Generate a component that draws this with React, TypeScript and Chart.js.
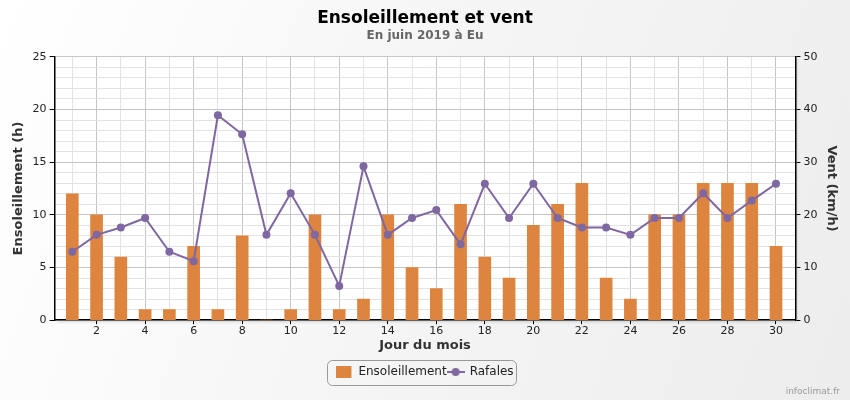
import React, { useEffect, useRef } from 'react';
import { Chart, registerables } from 'chart.js';

Chart.register(...registerables);

const TITLE = 'Ensoleillement et vent';
const SUBTITLE = 'En juin 2019 à Eu';
const X_TITLE = 'Jour du mois';
const Y_TITLE = 'Ensoleillement (h)';
const Y1_TITLE = 'Vent (km/h)';
const SERIES_BAR = 'Ensoleillement';
const SERIES_LINE = 'Rafales';
const CREDIT = 'infoclimat.fr';

const days = [1, 2, 3, 4, 5, 6, 7, 8, 9, 10, 11, 12, 13, 14, 15, 16, 17, 18, 19, 20, 21, 22, 23, 24, 25, 26, 27, 28, 29, 30];
const sunshine = [12, 10, 6, 1, 1, 7, 1, 8, 0, 1, 10, 1, 2, 10, 5, 3, 11, 6, 4, 9, 11, 13, 4, 2, 10, 10, 13, 13, 13, 7];
const gusts = [13.0, 16.2, 17.6, 19.4, 13.0, 11.2, 38.9, 35.3, 16.2, 24.1, 16.2, 6.5, 29.2, 16.2, 19.4, 20.9, 14.4, 25.9, 19.4, 25.9, 19.4, 17.6, 17.6, 16.2, 19.4, 19.4, 24.1, 19.4, 22.7, 25.9];
const xLabelDays = [2, 4, 6, 8, 10, 12, 14, 16, 18, 20, 22, 24, 26, 28, 30];
const yLeftLabels = [0, 5, 10, 15, 20, 25];
const yRightLabels = [0, 10, 20, 30, 40, 50];

const BAR_COLOR = '#dd843e';
const LINE_COLOR = '#7f67a1';
const FONT = "'DejaVu Sans', Verdana, sans-serif";

function makeBarSymbol(): HTMLCanvasElement {
  const c = document.createElement('canvas');
  c.width = 16;
  c.height = 12;
  const g = c.getContext('2d')!;
  g.fillStyle = BAR_COLOR;
  g.fillRect(0, 0, 15, 12);
  return c;
}

function makeLineSymbol(): HTMLCanvasElement {
  const c = document.createElement('canvas');
  c.width = 18;
  c.height = 10;
  const g = c.getContext('2d')!;
  g.strokeStyle = LINE_COLOR;
  g.lineWidth = 2;
  g.beginPath();
  g.moveTo(0, 5);
  g.lineTo(18, 5);
  g.stroke();
  g.fillStyle = LINE_COLOR;
  g.beginPath();
  g.arc(9, 5, 4, 0, Math.PI * 2);
  g.fill();
  return c;
}

const plotBgPlugin = {
  id: 'plotBg',
  beforeDraw(chart: any) {
    const { ctx, chartArea } = chart;
    if (!chartArea) return;
    ctx.save();
    ctx.shadowColor = 'rgba(0,0,0,0.22)';
    ctx.shadowBlur = 3;
    ctx.shadowOffsetX = 2;
    ctx.shadowOffsetY = 2;
    ctx.fillStyle = '#ffffff';
    ctx.fillRect(chartArea.left, chartArea.top, chartArea.right - chartArea.left, chartArea.bottom - chartArea.top);
    ctx.restore();
  },
};

const extrasPlugin = {
  id: 'extras',
  afterDraw(chart: any) {
    const { ctx } = chart;
    const lg = chart.legend;
    if (lg && lg.legendHitBoxes && lg.legendHitBoxes.length) {
      const boxes = lg.legendHitBoxes;
      let l = Infinity, r = -Infinity, t = Infinity, b = -Infinity;
      boxes.forEach((h: any) => {
        l = Math.min(l, h.left);
        r = Math.max(r, h.left + h.width);
        t = Math.min(t, h.top);
        b = Math.max(b, h.top + h.height);
      });
      const x0 = Math.round(l - 9) + 0.5;
      const y0 = Math.round(t - 6) + 0.5;
      const w = Math.round(r + 3 - (l - 9));
      const hgt = Math.round(b + 7 - (t - 6));
      ctx.save();
      ctx.strokeStyle = '#999999';
      ctx.lineWidth = 1;
      ctx.beginPath();
      (ctx as any).roundRect(x0, y0, w, hgt, 5);
      ctx.stroke();
      ctx.restore();
    }
    ctx.save();
    ctx.font = `9px ${FONT}`;
    ctx.fillStyle = '#999999';
    ctx.textAlign = 'right';
    ctx.textBaseline = 'middle';
    ctx.fillText(CREDIT, 840, 392);
    ctx.restore();
  },
};

export default function App() {
  const canvasRef = useRef<HTMLCanvasElement | null>(null);

  useEffect(() => {
    document.body.style.margin = '0';
    const canvas = canvasRef.current;
    if (!canvas) return;
    Chart.defaults.font.family = FONT;
    const barSymbol = makeBarSymbol();
    const lineSymbol = makeLineSymbol();

    const chart = new Chart(canvas, {
      type: 'bar',
      data: {
        datasets: [
          {
            type: 'bar',
            label: SERIES_BAR,
            data: days.map((d, i) => ({ x: d, y: sunshine[i] })),
            backgroundColor: BAR_COLOR,
            borderWidth: 0,
            barThickness: 12,
            yAxisID: 'y',
            order: 2,
          } as any,
          {
            type: 'line',
            label: SERIES_LINE,
            data: days.map((d, i) => ({ x: d, y: gusts[i] })),
            borderColor: LINE_COLOR,
            backgroundColor: LINE_COLOR,
            borderWidth: 2,
            pointRadius: 4,
            pointBorderWidth: 0,
            pointBackgroundColor: LINE_COLOR,
            tension: 0,
            yAxisID: 'y1',
            order: 1,
          } as any,
        ],
      },
      options: {
        responsive: false,
        animation: false,
        devicePixelRatio: 1,
        layout: { padding: { left: 8, right: 8, top: 0, bottom: 12 } },
        scales: {
          x: {
            type: 'linear',
            min: 0.27,
            max: 30.8,
            offset: false,
            afterBuildTicks: (s: any) => {
              s.ticks = days.map((d) => ({ value: d }));
            },
            grid: {
              offset: false,
              color: (c: any) => (c.tick && xLabelDays.includes(c.tick.value) ? '#c6c6c6' : '#e3e3e3'),
              tickColor: (c: any) => (c.tick && xLabelDays.includes(c.tick.value) ? '#000000' : 'rgba(0,0,0,0)'),
              tickLength: 4,
              lineWidth: 1,
            },
            border: { color: '#000000', width: 1.5 },
            ticks: {
              autoSkip: false,
              maxRotation: 0,
              padding: 0,
              color: '#222222',
              font: { size: 11 },
              callback: (v: any) => (xLabelDays.includes(v) ? String(v) : ''),
            },
            title: {
              display: true,
              text: X_TITLE,
              color: '#333333',
              font: { size: 13, weight: 'bold' },
              padding: { top: 0, bottom: 12 },
            },
          } as any,
          y: {
            type: 'linear',
            position: 'left',
            min: 0,
            max: 25,
            afterBuildTicks: (s: any) => {
              const t: any[] = [];
              for (let v = 0; v <= 25; v++) t.push({ value: v });
              s.ticks = t;
            },
            grid: {
              color: (c: any) => (c.tick && yLeftLabels.includes(c.tick.value) ? '#c6c6c6' : '#e3e3e3'),
              tickColor: (c: any) => (c.tick && yLeftLabels.includes(c.tick.value) ? '#000000' : 'rgba(0,0,0,0)'),
              tickLength: 5,
              lineWidth: 1,
            },
            border: { color: '#000000', width: 1.5 },
            ticks: {
              autoSkip: false,
              padding: 3,
              color: '#222222',
              font: { size: 11 },
              callback: (v: any) => (yLeftLabels.includes(v) ? String(v) : ''),
            },
            title: {
              display: true,
              text: Y_TITLE,
              color: '#333333',
              font: { size: 13, weight: 'bold' },
              padding: 3,
            },
          } as any,
          y1: {
            type: 'linear',
            position: 'right',
            min: 0,
            max: 50,
            afterBuildTicks: (s: any) => {
              s.ticks = yRightLabels.map((v) => ({ value: v }));
            },
            grid: {
              drawOnChartArea: false,
              tickColor: '#000000',
              tickLength: 5,
            },
            border: { color: '#000000', width: 1.5 },
            ticks: {
              autoSkip: false,
              padding: 3,
              color: '#222222',
              font: { size: 11 },
              callback: (v: any) => String(v),
            },
            title: {
              display: true,
              text: Y1_TITLE,
              color: '#333333',
              font: { size: 13, weight: 'bold' },
              padding: 3,
            },
          } as any,
        },
        plugins: {
          title: {
            display: true,
            text: TITLE,
            color: '#000000',
            font: { size: 17, weight: 'bold' },
            padding: { top: 8, bottom: 0 },
          },
          subtitle: {
            display: true,
            text: SUBTITLE,
            color: '#666666',
            font: { size: 12, weight: 'bold' },
            padding: { top: 0, bottom: 14 },
          },
          legend: {
            display: true,
            position: 'bottom',
            labels: {
              usePointStyle: true,
              pointStyleWidth: 16,
              boxHeight: 12,
              padding: 1,
              color: '#222222',
              font: { size: 12 },
              generateLabels: () => [
                {
                  text: SERIES_BAR,
                  pointStyle: barSymbol,
                  fillStyle: BAR_COLOR,
                  strokeStyle: BAR_COLOR,
                  lineWidth: 0,
                  hidden: false,
                  datasetIndex: 0,
                  fontColor: '#222222',
                },
                {
                  text: SERIES_LINE,
                  pointStyle: lineSymbol,
                  fillStyle: LINE_COLOR,
                  strokeStyle: LINE_COLOR,
                  lineWidth: 0,
                  hidden: false,
                  datasetIndex: 1,
                  fontColor: '#222222',
                },
              ],
            },
          } as any,
          tooltip: { enabled: false },
        },
      } as any,
      plugins: [plotBgPlugin, extrasPlugin],
    });

    return () => {
      chart.destroy();
    };
  }, []);

  return (
    <div
      style={{
        width: 850,
        height: 400,
        background: 'linear-gradient(110deg, #ffffff 0%, #f4f4f4 55%, #ededed 100%)',
      }}
    >
      <canvas ref={canvasRef} width={850} height={400} style={{ display: 'block' }} />
    </div>
  );
}
